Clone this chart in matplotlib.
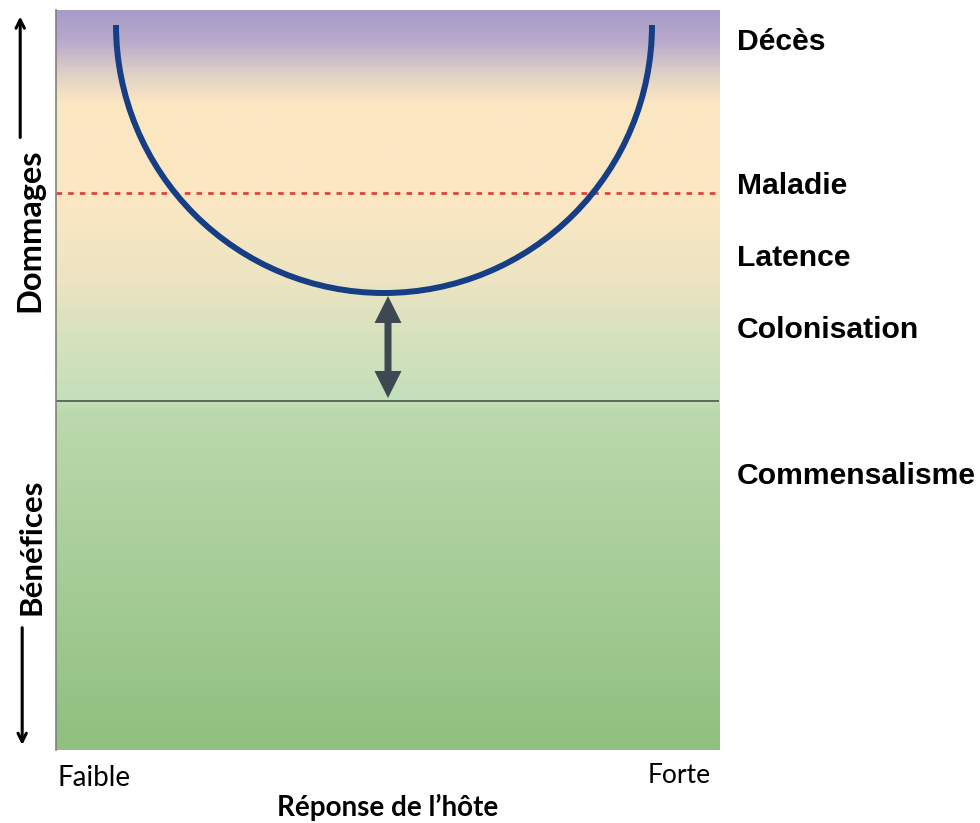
import numpy as np
import matplotlib.pyplot as plt
from matplotlib.colors import LinearSegmentedColormap
from matplotlib.patches import Arc

# outcome levels (arbitrary damage units, 0 = neutral line)
outcomes = ['Décès', 'Maladie', 'Latence', 'Colonisation', 'Commensalisme']
outcome_y = [3.59, 2.15, 1.43, 0.71, -0.75]

y_min, y_max = -3.49, 3.91
x_min, x_max = 0.0, 6.63
disease_level = 2.08

# damage-response curve (U shaped)
curve_left, curve_right = 0.60, 5.96
curve_top, curve_bottom = 3.76, 1.08

# background colour bands (damage value, colour)
band_y = [-3.49, -0.10, 0.00, 0.70, 1.20, 2.00, 3.00, 3.30, 3.60, 3.91]
band_col = ['#8fc07f', '#bcd9ad', '#c4dfbb', '#d8e2bd', '#ece4c2',
            '#fbe7c3', '#fbe6c2', '#ded0c6', '#b9abcb', '#a89bc8']

fig = plt.figure(figsize=(9.8, 8.23), dpi=100)
ax = fig.add_axes([56/980, 73/823, 663/980, 740/823])

pos = [(v - y_min) / (y_max - y_min) for v in band_y]
cmap = LinearSegmentedColormap.from_list('bg', list(zip(pos, band_col)))
grad = np.linspace(0, 1, 600).reshape(-1, 1)
ax.imshow(grad, cmap=cmap, origin='lower', aspect='auto',
          extent=[x_min, x_max, y_min, y_max], zorder=0)

# neutral line and disease threshold
ax.axhline(0, color='#56614f', lw=1.3, zorder=2)
ax.axhline(disease_level, color='#d9463f', lw=2, ls=(0, (2, 2.2)), zorder=2)

# curve
cx = (curve_left + curve_right) / 2
arc = Arc((cx, curve_top), curve_right - curve_left, 2 * (curve_top - curve_bottom),
          theta1=180, theta2=360, color='#163e85', lw=4.3, zorder=3)
ax.add_patch(arc)

# double arrow between curve and neutral line (two halves from the middle)
ax_x = cx + 0.04
mid = curve_bottom / 2
for end in [curve_bottom - 0.03, 0.03]:
    ax.arrow(ax_x, mid, 0, end - mid, width=0.07, head_width=0.27, head_length=0.27,
             length_includes_head=True, color='#3d4853', lw=0, zorder=4)

ax.set_xlim(x_min, x_max)
ax.set_ylim(y_min, y_max)
ax.set_xticks([])
ax.set_yticks([])
for s in ['top', 'right', 'bottom']:
    ax.spines[s].set_visible(False)
ax.spines['left'].set_color('#808080')
ax.spines['left'].set_linewidth(1.2)

for name, yv in zip(outcomes, outcome_y):
    ax.text(1.027, yv, name, transform=ax.get_yaxis_transform(), fontsize=21.7,
            fontweight='bold', family='Liberation Sans', va='center', ha='left')

# left side labels and arrows
ax.annotate('', xy=(-0.054, 0.995), xytext=(-0.054, 0.824), xycoords='axes fraction',
            arrowprops=dict(arrowstyle='->,head_length=0.6,head_width=0.3', lw=2.2, color='black'))
ax.annotate('', xy=(-0.051, 0.003), xytext=(-0.051, 0.169), xycoords='axes fraction',
            arrowprops=dict(arrowstyle='->,head_length=0.6,head_width=0.3', lw=2.2, color='black'))
ax.text(-0.039, 0.703, 'Dommages', transform=ax.transAxes, rotation=90, fontsize=23.5,
        fontweight='bold', family='Lato', ha='center', va='center')
ax.text(-0.037, 0.275, 'Bénéfices', transform=ax.transAxes, rotation=90, fontsize=22.5,
        fontweight='bold', family='Lato', ha='center', va='center')

ax.text(0.002, -0.038, 'Faible', transform=ax.transAxes, fontsize=20, family='Lato',
        ha='left', va='center')
ax.text(0.987, -0.034, 'Forte', transform=ax.transAxes, fontsize=19, family='Lato',
        ha='right', va='center')
ax.text(0.5, -0.077, 'Réponse de l’hôte', transform=ax.transAxes, fontsize=20,
        fontweight='bold', family='Lato', ha='center', va='center')

fig.savefig('out.png', dpi=100)
